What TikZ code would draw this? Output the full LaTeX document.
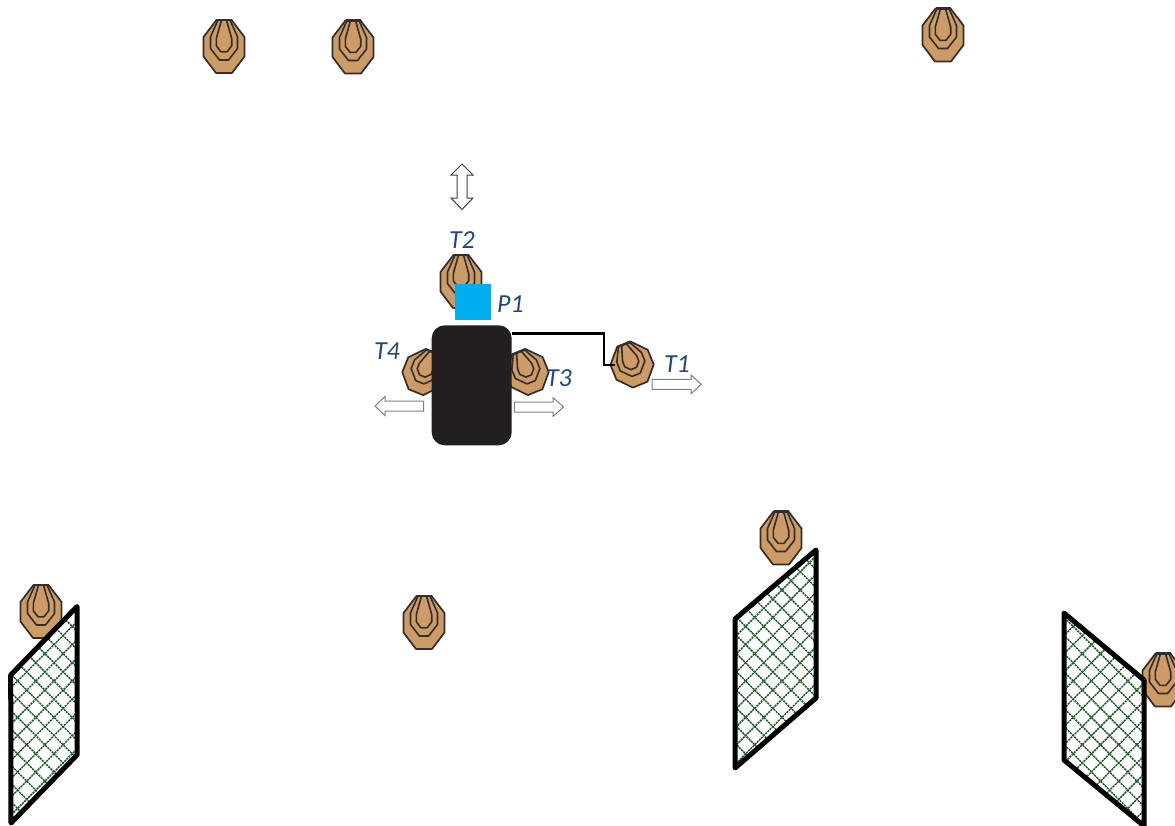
\documentclass[tikz,border=0pt]{standalone}
\usepackage{fontspec}
\setmainfont{Carlito}
\definecolor{tgtfill}{HTML}{CC9B66}
\definecolor{tgtline}{HTML}{332E2B}
\definecolor{robotc}{HTML}{231F20}
\definecolor{camc}{HTML}{00AEEF}
\definecolor{labelc}{HTML}{1F497D}
\definecolor{meshc}{HTML}{1F5A28}
\tikzset{
  tgtouter/.style={fill=tgtfill,draw=tgtline,line width=1.7pt,line join=round},
  tgtring/.style={draw=tgtline,line width=1.6pt,line join=round},
  lab/.style={text=labelc,font=\itshape\fontsize{26}{26}\selectfont,inner sep=0pt},
  panel/.style={draw=black,line width=5pt,line join=round},
  meshline/.style={draw=meshc,line width=1.5pt,dash pattern=on 2.2pt off 0.8pt},
  flowarrow/.style={fill=white,draw=#1,line width=1pt,line join=miter},
  flowarrow/.default=gray
}
\newcommand{\tgt}[5]{%
  \begin{scope}[shift={(#1,#2)},rotate=#3,xscale=#4,yscale=#5]
    \draw[tgtouter] (-7.5,-26.5)--(7.5,-26.5)--(20.5,-9.5)--(20.5,10)--(8,26.5)--(-8,26.5)--(-20.5,10)--(-20.5,-9.5)--cycle;
    \draw[tgtring] (-6,-26.5)--(-13.5,-9.5)--(-13.5,2)--(-4.5,13.5)--(4.5,13.5)--(13.5,2)--(13.5,-9.5)--(6,-26.5);
    \draw[tgtring] (-2.5,-26.5)--(-7.7,-8)--(-7.7,-0.7)--(-3,5.3)--(3,5.3)--(7.7,-0.7)--(7.7,-8)--(2.5,-26.5);
    \draw[draw=tgtline,line width=2.4pt] (-7.5,-26.5)--(7.5,-26.5);
  \end{scope}}
\newcommand{\mesh}[4]{%
  \begin{scope}
    \clip (#1) -- (#2) -- (#3) -- (#4) -- cycle;
    \foreach \k in {-60,...,60}{
      \draw[meshline] ({\k*18.2},-10) -- ({\k*18.2+900},890);
      \draw[meshline] ({\k*18.2+1200},-10) -- ({\k*18.2+300},890);
    }
  \end{scope}
  \draw[panel] (#1) -- (#2) -- (#3) -- (#4) -- cycle;}
\begin{document}
\begin{tikzpicture}[x=1pt,y=-1pt]
\useasboundingbox (0,0) rectangle (1175,825);
% free targets
\tgt{224}{46.5}{0}{1}{1}
\tgt{353}{47}{0}{1}{1}
\tgt{943}{35}{0}{1}{1}
\tgt{781}{538}{0}{1}{1}
\tgt{41}{611.5}{0}{1}{1}
\tgt{424}{622.5}{0}{1}{1}
\tgt{1163}{680}{0}{1}{1}
% mesh panels
\mesh{10.7,675}{77,606.5}{77,755}{11,823}
\mesh{735,619}{816,550}{816,698}{735,768}
\mesh{1064,613}{1144,680}{1144,826}{1064,760}
% robot targets
\tgt{461}{281.5}{0}{1}{1}
\tgt{424}{372}{-22}{0.98}{0.82}
\tgt{527}{372}{22}{0.98}{0.82}
\tgt{632}{364.5}{22}{0.98}{0.82}
% robot and camera
\node[fill=robotc,draw=none,rounded corners=13pt,minimum width=80pt,minimum height=120pt,inner sep=0pt] (robot) at (471.7,385.3) {};
\node[fill=camc,draw=none,minimum size=36pt,inner sep=0pt] (cam) at (473,302) {};
\coordinate (t1hook) at (615,365);
\draw[black,line width=2.8pt,line join=miter] ([yshift=-8pt]robot.north east) -| (604,365) -- (t1hook);
% motion arrows
\draw[flowarrow=black!75] (462,164)--(473,175)--(467,175)--(467,198)--(473,198)--(462,209.5)--(451,198)--(457,198)--(457,175)--(451,175)--cycle;
\draw[flowarrow] (514.3,402)--(553,402)--(553,397.5)--(563.5,407)--(553,416.5)--(553,412)--(514.3,412)--cycle;
\draw[flowarrow] (652,379.3)--(691,379.3)--(691,375)--(701.2,384.3)--(691,393.8)--(691,389.3)--(652,389.3)--cycle;
\draw[flowarrow] (423.5,401)--(385,401)--(385,396.5)--(375,406)--(385,415.5)--(385,411)--(423.5,411)--cycle;
% labels
\node[lab] (t2) at (462,240) {T2};
\node[lab] (p1) at (510.5,304.5) {P1};
\node[lab] (t4) at (387,351) {T4};
\node[lab] (t3) at (559,378) {T3};
\node[lab] (t1) at (677,364.5) {T1};
\end{tikzpicture}
\end{document}
